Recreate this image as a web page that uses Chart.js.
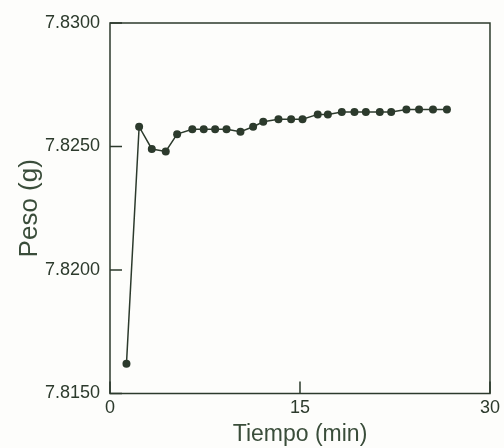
<!DOCTYPE html>
<html>
<head>
<meta charset="utf-8">
<script src="https://cdn.jsdelivr.net/npm/chart.js@4.4.1/dist/chart.umd.min.js"></script>
<style>
  html, body { margin: 0; padding: 0; background: #fdfdfb; }
  #wrap { width: 504px; height: 448px; }
</style>
</head>
<body>
<div id="wrap"><canvas id="chart"></canvas></div>
<script>
// tiempo (min) y peso (g)
const times = [1.3, 2.3, 3.3, 4.4, 5.3, 6.5, 7.4, 8.3, 9.2, 10.3, 11.3, 12.1, 13.3,
  14.3, 15.2, 16.4, 17.2, 18.3, 19.3, 20.2, 21.3, 22.2, 23.4, 24.4, 25.5, 26.6];
const weights = [7.8162, 7.8258, 7.8249, 7.8248, 7.8255, 7.8257, 7.8257, 7.8257, 7.8257,
  7.8256, 7.8258, 7.8260, 7.8261, 7.8261, 7.8261, 7.8263, 7.8263, 7.8264, 7.8264,
  7.8264, 7.8264, 7.8264, 7.8265, 7.8265, 7.8265, 7.8265];
const xTicks = [0, 15, 30];
const yTicks = [7.8150, 7.8200, 7.8250, 7.8300];

const ink = '#2c3a2c';
const font = '"Liberation Sans", Arial, sans-serif';

// caja del grafico y marcas hacia dentro
const frame = {
  id: 'frame',
  afterDraw(chart) {
    const { ctx, chartArea: a, scales } = chart;
    ctx.save();
    ctx.strokeStyle = ink;
    ctx.lineWidth = 1.5;
    ctx.strokeRect(a.left, a.top, a.right - a.left, a.bottom - a.top);
    ctx.beginPath();
    yTicks.forEach(v => {
      const y = scales.y.getPixelForValue(v);
      ctx.moveTo(a.left, y);
      ctx.lineTo(a.left + 12, y);
    });
    xTicks.forEach(v => {
      const x = scales.x.getPixelForValue(v);
      ctx.moveTo(x, a.bottom);
      ctx.lineTo(x, a.bottom - 12);
    });
    ctx.stroke();
    ctx.restore();
  }
};

new Chart(document.getElementById('chart'), {
  type: 'scatter',
  data: {
    datasets: [{
      data: times.map((t, i) => ({ x: t, y: weights[i] })),
      showLine: true,
      borderColor: ink,
      borderWidth: 1.5,
      backgroundColor: ink,
      pointRadius: 4,
      pointBorderWidth: 0
    }]
  },
  options: {
    responsive: true,
    maintainAspectRatio: false,
    animation: false,
    layout: { padding: { top: 23, right: 12, left: 0, bottom: 0 } },
    plugins: { legend: { display: false }, tooltip: { enabled: false } },
    scales: {
      x: {
        type: 'linear',
        min: 0,
        max: 30,
        afterBuildTicks: s => { s.ticks = xTicks.map(v => ({ value: v })); },
        afterFit: s => { s.height = 54.5; },
        grid: { display: false, drawTicks: false },
        border: { display: false },
        ticks: { color: ink, padding: 4, maxRotation: 0, font: { family: font, size: 18 } },
        title: {
          display: true,
          text: 'Tiempo (min)',
          color: '#3a4d3a',
          padding: { top: 0, bottom: 0 },
          font: { family: font, size: 23 }
        }
      },
      y: {
        min: 7.815,
        max: 7.830,
        afterBuildTicks: s => { s.ticks = yTicks.map(v => ({ value: v })); },
        afterFit: s => { s.width = 110; },
        grid: { display: false, drawTicks: false },
        border: { display: false },
        ticks: {
          color: ink,
          padding: 10,
          font: { family: font, size: 18 },
          callback: v => Number(v).toFixed(4)
        },
        title: {
          display: true,
          text: 'Peso (g)',
          color: '#3a4d3a',
          padding: { top: 14, bottom: 0 },
          font: { family: font, size: 26 }
        }
      }
    }
  },
  plugins: [frame]
});
</script>
</body>
</html>
